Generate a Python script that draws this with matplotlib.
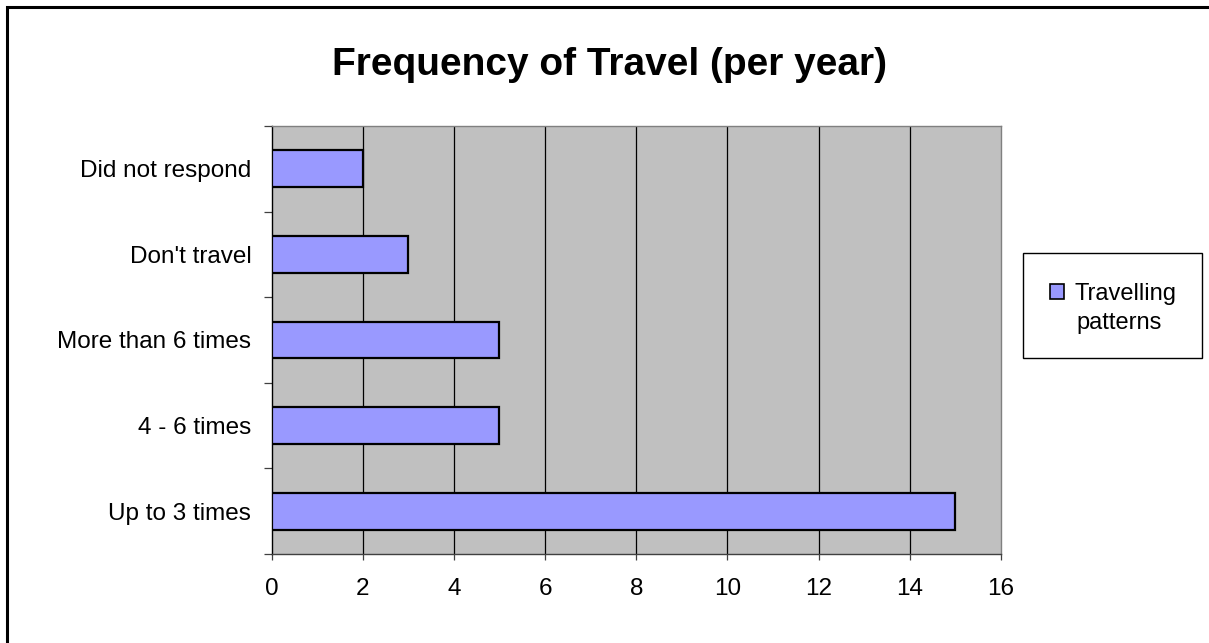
import matplotlib
matplotlib.use("Agg")
import matplotlib.pyplot as plt
from matplotlib.patches import Rectangle
from matplotlib.ticker import FixedLocator, NullFormatter
import numpy as np

plt.rcParams['font.family'] = ['Liberation Sans', 'DejaVu Sans']

categories = ["Up to 3 times", "4 - 6 times", "More than 6 times", "Don't travel", "Did not respond"]
values = [15, 5, 5, 3, 2]
series_name = ["Travelling", "patterns"]
title = "Frequency of Travel (per year)"
xticks = [0, 2, 4, 6, 8, 10, 12, 14, 16]

W, H = 1209, 643
fig = plt.figure(figsize=(W / 100, H / 100), dpi=100)

# figure border (left and top visible)
fig.add_artist(Rectangle((7 / W, -0.1), 1.2, 1.1 - 7 / H, transform=fig.transFigure,
                         fill=False, edgecolor='black', linewidth=2.2, clip_on=False,
                         zorder=-2))

ax = fig.add_axes([271.5 / W, 1 - 554 / H, (1001 - 271.5) / W, (554 - 126) / H])
ax.set_facecolor('#C0C0C0')

pos = np.arange(len(categories))
bars = ax.barh(pos, values, height=0.43, color='#9999FF', edgecolor='black',
               linewidth=1.6, zorder=3, label=" ".join(series_name))

ax.set_xlim(0, 16)
ax.set_ylim(-0.5, len(categories) - 0.5)
ax.set_xticks(xticks)
ax.set_xticklabels([str(t) for t in xticks], fontsize=17.5)
for t in xticks[1:-1]:
    ax.axvline(t, color='black', linewidth=0.9, zorder=1)

# major ticks at category boundaries, labels on minor ticks at centers
ax.yaxis.set_major_locator(FixedLocator(np.arange(-0.5, len(categories), 1.0)))
ax.yaxis.set_major_formatter(NullFormatter())
ax.yaxis.set_minor_locator(FixedLocator(pos))
ax.set_yticklabels(categories, minor=True, fontsize=17.5)
ax.tick_params(axis='y', which='major', length=6, width=0.9, color='#404040')
ax.tick_params(axis='y', which='minor', length=0, pad=14.5)
ax.tick_params(axis='x', which='major', length=4, width=0.9, color='#404040', pad=13)

ax.spines['left'].set_color('black')
ax.spines['left'].set_linewidth(1.0)
ax.spines['bottom'].set_color('#404040')
ax.spines['bottom'].set_linewidth(1.0)
ax.spines['top'].set_color('#808080')
ax.spines['top'].set_linewidth(1.0)
ax.spines['right'].set_color('#808080')
ax.spines['right'].set_linewidth(1.0)

fig.text(610 / W, 1 - 75 / H, title, ha='center', va='baseline',
         fontsize=28, fontweight='bold')

# legend box
lx0, ly0, lx1, ly1 = 1023, 253, 1202, 358
fig.add_artist(Rectangle((lx0 / W, 1 - ly1 / H), (lx1 - lx0) / W, (ly1 - ly0) / H,
                         transform=fig.transFigure, facecolor='white',
                         edgecolor='black', linewidth=1.0, zorder=-1))
leg = ax.legend(handles=[bars], labels=[series_name[0]],
                loc='center left', bbox_to_anchor=(1050 / W, 1 - 294 / H),
                bbox_transform=fig.transFigure, frameon=False, fontsize=17,
                handlelength=0.58, handleheight=0.58, handletextpad=0.45,
                borderpad=0, borderaxespad=0)
for h in leg.legend_handles:
    h.set_linewidth(1.2)
fig.text(1119 / W, 1 - 323 / H, series_name[1], ha='center', va='center', fontsize=17)

fig.savefig('out.png', dpi=100)
